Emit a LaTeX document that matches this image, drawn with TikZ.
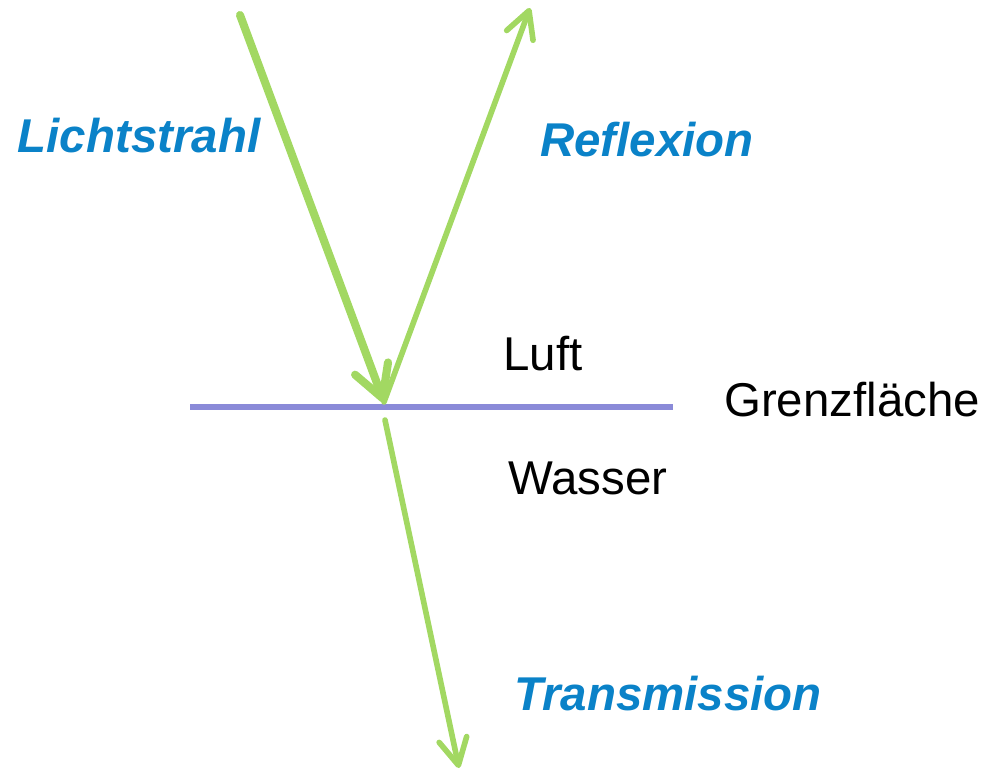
\documentclass[tikz,border=0pt]{standalone}
\usepackage{fontspec}
\setmainfont{Liberation Sans}
\usepackage{tikz}
\usetikzlibrary{arrows.meta,positioning}
\definecolor{cRay}{HTML}{A2D862}
\definecolor{cBound}{HTML}{8A8AD8}
\definecolor{cLabel}{HTML}{0A82C8}
\tikzset{
  ray/.style     ={cRay,line width=3.2pt,line cap=round,-{Straight Barb[round,length=15pt,width=16pt]}},
  inray/.style   ={ray,line width=4.6pt,-{Straight Barb[round,length=18pt,width=20pt]}},
  bound/.style   ={cBound,line width=3.2pt},
  raylabel/.style={cLabel,font=\fontsize{27}{30}\selectfont\bfseries\itshape},
  medium/.style  ={black,font=\fontsize{27}{30}\selectfont},
}

\begin{document}
\begin{tikzpicture}[x=0.02cm,y=-0.02cm]
  \useasboundingbox (0,0) rectangle (998,772);
  \coordinate (src) at (240,15);
  \coordinate (hit) at (384,402);
  \coordinate (refl) at (530,8);
  \coordinate (trin) at (385,420);
  \coordinate (trans) at (459,768);
  \coordinate (bl) at (190,407);
  \coordinate (br) at (673,407);
  \draw[bound] (bl) -- (br);
  \draw[inray] (src) -- (hit);
  \draw[ray] (hit) -- (refl);
  \draw[ray] (trin) -- (trans);
  \node[raylabel] (licht) at (139,136) {Lichtstrahl};
  \node[raylabel] (reflex) at (647,140) {Reflexion};
  \node[raylabel] (transm) at (668,694) {Transmission};
  \node[medium] (luft) at (543,354) {Luft};
  \node[medium] (grenz) at (852,400) {Grenzfläche};
  \node[medium] (wasser) at (588,478) {Wasser};
\end{tikzpicture}
\end{document}
